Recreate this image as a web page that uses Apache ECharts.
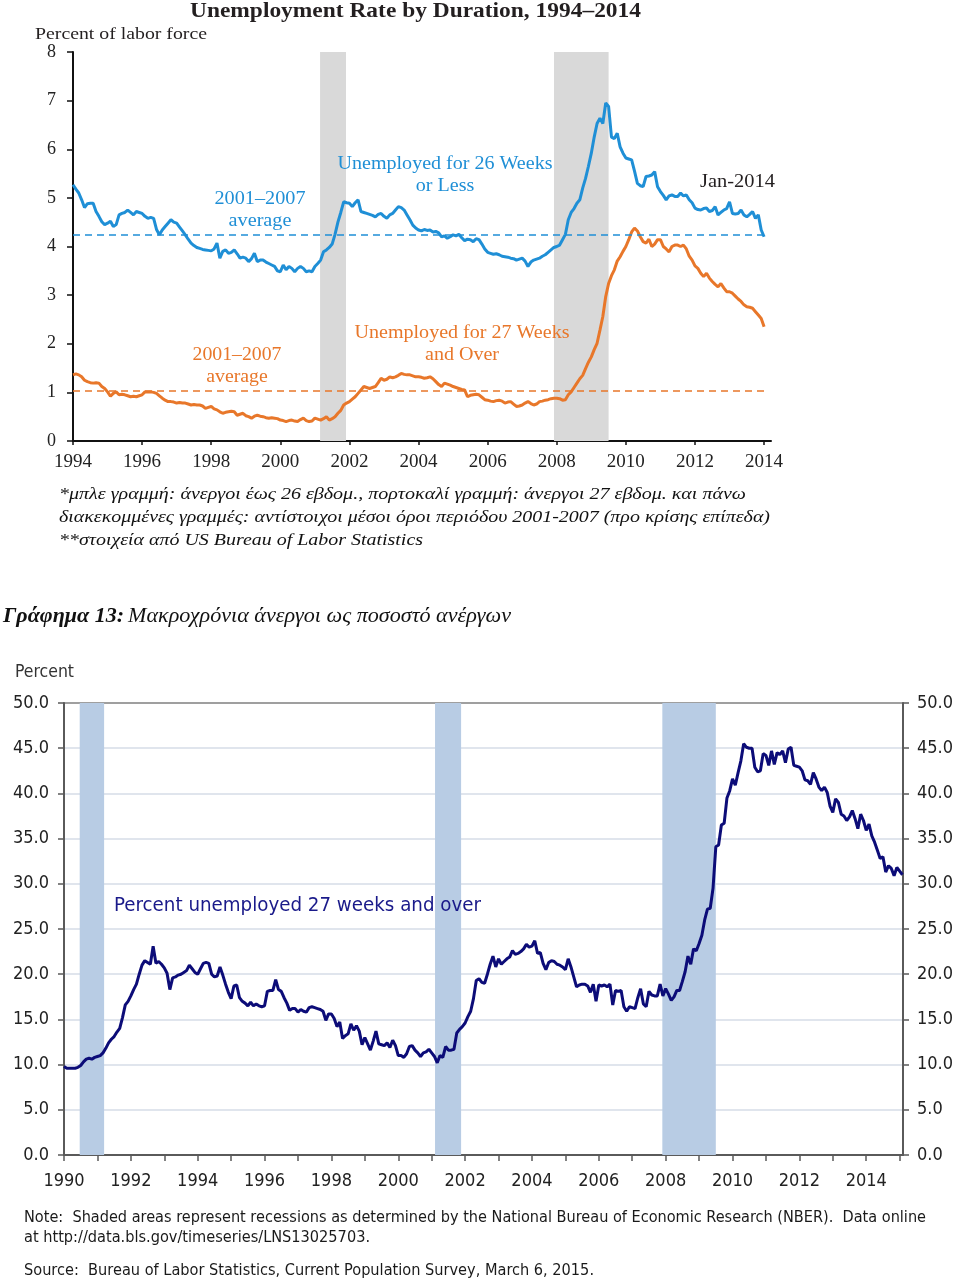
<!DOCTYPE html>
<html><head><meta charset="utf-8">
<script src="https://cdn.jsdelivr.net/npm/echarts@6/dist/echarts.min.js"></script>
<style>html,body{margin:0;padding:0;background:#fff}#c{width:960px;height:1284px}</style>
</head><body><div id="c"></div>
<script>
// ---------- DATA ----------
// Top chart: unemployment rate by duration, % of labor force, monthly Jan-1994 .. Jan-2014
const topStartYear = 1994;
const shortTermRate = [ // unemployed 26 weeks or less
 5.27,5.18,5.10,4.96,4.80,4.88,4.89,4.89,4.72,4.62,4.51,4.45,
 4.48,4.52,4.41,4.45,4.65,4.68,4.70,4.75,4.70,4.65,4.72,4.70,
 4.68,4.62,4.58,4.60,4.58,4.35,4.24,4.34,4.41,4.48,4.55,4.50,
 4.48,4.40,4.32,4.24,4.15,4.07,4.02,3.98,3.96,3.94,3.93,3.92,
 3.91,3.95,4.07,3.76,3.90,3.93,3.86,3.88,3.93,3.85,3.76,3.78,
 3.76,3.69,3.75,3.86,3.69,3.72,3.72,3.68,3.65,3.62,3.59,3.50,
 3.48,3.62,3.52,3.59,3.55,3.48,3.55,3.59,3.55,3.48,3.50,3.48,
 3.59,3.65,3.72,3.89,3.93,3.98,4.05,4.25,4.50,4.70,4.92,4.90,
 4.89,4.82,4.90,4.96,4.72,4.70,4.68,4.66,4.64,4.61,4.66,4.68,
 4.62,4.58,4.65,4.68,4.75,4.82,4.80,4.75,4.65,4.55,4.44,4.38,
 4.34,4.32,4.35,4.33,4.34,4.30,4.31,4.28,4.20,4.22,4.17,4.20,
 4.24,4.22,4.25,4.18,4.12,4.15,4.14,4.10,4.16,4.14,4.05,3.95,
 3.88,3.86,3.84,3.85,3.83,3.80,3.79,3.78,3.76,3.75,3.72,3.74,
 3.76,3.70,3.59,3.68,3.72,3.74,3.76,3.80,3.83,3.88,3.93,3.98,
 4.00,4.03,4.14,4.25,4.55,4.70,4.78,4.89,4.96,5.20,5.40,5.65,
 5.92,6.25,6.53,6.64,6.53,6.95,6.88,6.25,6.22,6.33,6.05,5.92,
 5.82,5.80,5.78,5.55,5.30,5.25,5.23,5.44,5.45,5.47,5.54,5.23,
 5.13,5.05,4.96,5.04,5.06,5.03,5.03,5.10,5.04,5.06,4.96,4.90,
 4.79,4.76,4.75,4.78,4.79,4.72,4.74,4.82,4.65,4.70,4.75,4.78,
 4.92,4.68,4.67,4.68,4.75,4.65,4.61,4.66,4.72,4.58,4.65,4.34,
 4.20
];
const longTermRate = [ // unemployed 27 weeks and over
 1.36,1.38,1.36,1.32,1.25,1.22,1.20,1.19,1.20,1.19,1.12,1.08,
 1.01,0.92,0.98,1.01,0.95,0.96,0.95,0.93,0.91,0.92,0.91,0.93,
 0.95,1.01,1.01,1.01,1.00,0.98,0.93,0.88,0.84,0.81,0.81,0.80,
 0.78,0.79,0.78,0.78,0.76,0.74,0.75,0.74,0.74,0.72,0.67,0.69,
 0.71,0.66,0.64,0.60,0.57,0.59,0.60,0.61,0.60,0.53,0.55,0.57,
 0.52,0.50,0.47,0.51,0.53,0.51,0.50,0.48,0.47,0.48,0.47,0.46,
 0.43,0.42,0.40,0.42,0.43,0.41,0.40,0.44,0.47,0.42,0.40,0.41,
 0.47,0.45,0.43,0.46,0.50,0.43,0.46,0.50,0.57,0.63,0.74,0.78,
 0.81,0.86,0.91,0.98,1.05,1.12,1.10,1.08,1.10,1.12,1.20,1.29,
 1.25,1.27,1.32,1.30,1.32,1.35,1.39,1.37,1.36,1.36,1.34,1.32,
 1.32,1.31,1.29,1.30,1.32,1.28,1.22,1.16,1.12,1.19,1.17,1.15,
 1.12,1.10,1.08,1.06,1.05,0.91,0.94,0.95,0.96,0.95,0.90,0.85,
 0.84,0.82,0.81,0.83,0.84,0.82,0.78,0.80,0.81,0.76,0.71,0.72,
 0.74,0.78,0.81,0.77,0.74,0.76,0.81,0.82,0.84,0.85,0.87,0.88,
 0.88,0.87,0.84,0.85,0.95,1.01,1.10,1.19,1.28,1.35,1.49,1.62,
 1.73,1.88,2.01,2.28,2.56,2.97,3.24,3.40,3.52,3.70,3.79,3.90,
 4.00,4.14,4.30,4.38,4.32,4.20,4.10,4.07,4.15,4.00,4.05,4.14,
 4.14,4.00,3.95,3.89,4.00,4.03,4.03,4.00,4.03,3.95,3.80,3.72,
 3.60,3.55,3.45,3.38,3.45,3.35,3.28,3.22,3.17,3.24,3.15,3.07,
 3.07,3.04,2.98,2.92,2.87,2.80,2.76,2.75,2.73,2.66,2.59,2.52,
 2.35
];
const shortTermAvg0107 = 4.24;
const longTermAvg0107 = 1.03;
const topRecessions = [[2001.15, 2001.9], [2007.92, 2009.5]];
const topYearTicks = [1994,1996,1998,2000,2002,2004,2006,2008,2010,2012,2014];

// Bottom chart: percent of unemployed 27 weeks and over, monthly Jan-1990 .. Feb-2015
const bottomStartYear = 1990;
const ltuShare = [
 9.8,9.6,9.6,9.6,9.6,9.7,9.9,10.3,10.6,10.7,10.6,10.8,
 10.9,11.0,11.3,11.8,12.4,12.8,13.1,13.6,14.0,15.2,16.6,17.0,
 17.6,18.3,18.9,20.0,21.0,21.5,21.3,21.1,23.1,21.2,21.4,21.1,
 20.7,20.1,18.3,19.6,19.7,19.9,20.0,20.2,20.4,21.0,20.6,20.2,
 20.0,20.6,21.2,21.3,21.2,20.0,19.7,19.8,20.8,19.9,18.9,18.0,
 17.3,18.7,18.8,17.4,17.0,16.8,16.5,16.9,16.5,16.7,16.5,16.4,
 16.5,18.1,18.2,18.2,19.4,18.3,18.1,17.4,16.8,16.0,16.2,16.2,
 15.8,16.1,15.9,15.8,16.3,16.4,16.3,16.2,16.1,15.9,14.9,15.6,
 15.6,15.1,14.2,14.7,12.9,13.2,13.4,14.5,13.8,14.3,13.7,12.2,
 13.0,12.3,11.6,12.6,13.7,12.3,12.2,12.1,12.4,11.9,12.7,12.1,
 11.0,11.0,10.8,11.2,12.0,12.1,11.6,11.3,10.9,11.3,11.4,11.7,
 11.3,10.9,10.2,11.0,10.8,12.0,11.6,11.6,11.7,13.5,13.9,14.2,
 14.6,15.3,15.9,17.3,19.3,19.5,19.1,19.0,20.0,21.1,22.0,20.8,
 21.7,21.1,21.4,21.7,21.9,22.6,22.2,22.3,22.5,22.8,23.3,23.0,
 23.1,23.7,22.3,22.4,21.2,20.5,21.3,21.5,21.4,21.1,21.0,20.8,
 20.5,21.7,20.8,19.7,18.6,18.8,18.9,18.9,18.7,18.0,18.9,17.0,
 18.8,18.7,18.8,18.6,18.9,16.6,18.2,18.1,18.2,16.4,15.9,16.4,
 16.3,16.2,17.4,18.4,16.7,16.4,18.1,17.7,17.6,17.6,18.9,17.6,
 18.4,17.8,17.1,17.5,18.2,18.2,19.2,20.3,22.0,21.1,22.8,22.6,
 23.4,24.3,26.0,27.2,27.3,29.5,34.1,34.3,36.5,36.7,39.5,40.3,
 41.6,40.9,42.3,43.6,45.5,45.1,45.0,45.0,42.9,42.4,42.5,44.4,
 44.2,43.1,44.7,43.2,44.5,44.3,44.7,43.4,44.9,45.1,43.1,43.0,
 42.9,42.5,41.5,41.4,41.0,42.3,41.6,40.7,40.3,40.7,40.1,38.6,
 37.9,39.4,39.0,37.7,37.5,37.0,37.4,38.1,37.2,36.1,37.7,37.0,
 35.9,36.6,35.3,34.6,33.7,32.8,33.0,31.3,32.0,31.7,30.9,31.8,
 31.4,31.0
];
const bottomRecessions = [[1990.47, 1991.2], [2001.1, 2001.88], [2007.9, 2009.5]];
const bottomYearTicks = [];
for (let y = 1990; y <= 2015; y++) bottomYearTicks.push(y);
const bottomYearLabels = bottomYearTicks.filter(y => y % 2 === 0);

// ---------- HELPERS ----------
function monthly(startYear, vals) {
  return vals.map((v, i) => [startYear + i / 12, v]);
}
const mctx = document.createElement('canvas').getContext('2d');
function fit(text, font, w) { mctx.font = font; return w / mctx.measureText(text).width; }
function txt(text, x, y, font, fill, width, align, scale) {
  const a = align || 'left';
  const s = scale || (width ? fit(text, font, width) : 1);
  return { type: 'text', x: x, y: y, scaleX: s, silent: true, z: 100, zlevel: 0,
    style: { text: text, font: font, fill: fill, textAlign: a, align: a,
             textVerticalAlign: 'middle', verticalAlign: 'middle' } };
}

const BLUE = '#1f8fd6', ORANGE = '#e8772a', NAVY = '#0c0c78';
const SERIF = "'Liberation Serif','Times New Roman',serif";
const SANS = "'DejaVu Sans Condensed','DejaVu Sans',sans-serif";

const fBlue = "18px " + SERIF;
const sBlue26 = fit('Unemployed for 26 Weeks', fBlue, 215);
const sOr27 = fit('Unemployed for 27 Weeks', fBlue, 215);
const sAvgB = fit('2001–2007', fBlue, 91);
const sAvgO = fit('2001–2007', fBlue, 89);

const graphics = [
  txt('Unemployment Rate by Duration, 1994–2014', 190, 12, 'bold 21px ' + SERIF, '#231f20', 451),
  txt('Percent of labor force', 35, 35, '17px ' + SERIF, '#231f20', 172),
  txt('Unemployed for 26 Weeks', 445, 164, fBlue, BLUE, null, 'center', sBlue26),
  txt('or Less', 445, 186, fBlue, BLUE, null, 'center', sBlue26),
  txt('2001–2007', 260, 199, fBlue, BLUE, null, 'center', sAvgB),
  txt('average', 260, 221, fBlue, BLUE, null, 'center', sAvgB),
  txt('Jan-2014', 700, 182, fBlue, '#231f20', 75),
  txt('Unemployed for 27 Weeks', 462, 333, fBlue, ORANGE, null, 'center', sOr27),
  txt('and Over', 462, 355, fBlue, ORANGE, null, 'center', sOr27),
  txt('2001–2007', 237, 355, fBlue, ORANGE, null, 'center', sAvgO),
  txt('average', 237, 377, fBlue, ORANGE, null, 'center', sAvgO),
  txt('*μπλε γραμμή: άνεργοι έως 26 εβδομ., πορτοκαλί γραμμή: άνεργοι 27 εβδομ. και πάνω', 59, 495, 'italic 17px ' + SERIF, '#111', 687),
  txt('διακεκομμένες γραμμές: αντίστοιχοι μέσοι όροι περιόδου 2001-2007 (προ κρίσης επίπεδα)', 59, 518, 'italic 17px ' + SERIF, '#111', 711),
  txt('**στοιχεία από US Bureau of Labor Statistics', 59, 541, 'italic 17px ' + SERIF, '#111', 364),
  txt('Γράφημα 13:', 3, 617, 'bold italic 20px ' + SERIF, '#111', 121),
  txt('Μακροχρόνια άνεργοι ως ποσοστό ανέργων', 128, 617, 'italic 20px ' + SERIF, '#111', 383),
  txt('Percent', 15, 673, '17px ' + SANS, '#333', 59),
  txt('Percent unemployed 27 weeks and over', 114, 906, '20px ' + SANS, '#1a1a8a', 367),
  txt('Note:  Shaded areas represent recessions as determined by the National Bureau of Economic Research (NBER).  Data online', 24, 1218, '16px ' + SANS, '#1a1a1a', 902),
  txt('at http://data.bls.gov/timeseries/LNS13025703.', 24, 1238, '16px ' + SANS, '#1a1a1a', 346),
  txt('Source:  Bureau of Labor Statistics, Current Population Survey, March 6, 2015.', 24, 1271, '16px ' + SANS, '#1a1a1a', 570)
];

const splitColors = [];
for (let i = 0; i < 10; i++) splitColors.push('#d6dce7');
splitColors.push('#7f7f7f');

const yearFmt = v => String(Math.round(v));

const option = {
  animation: false,
  backgroundColor: '#ffffff',
  grid: [
    { left: 73, top: 52, width: 698, height: 389 },
    { left: 64, top: 703, width: 839, height: 452 }
  ],
  xAxis: [
    { gridIndex: 0, type: 'value', min: 1994, max: 2014.2,
      axisLine: { show: true, onZero: false, lineStyle: { color: '#111', width: 2 } },
      axisTick: { show: true, customValues: topYearTicks, length: 4, lineStyle: { color: '#111', width: 1.5 } },
      axisLabel: { customValues: topYearTicks, formatter: yearFmt, fontFamily: SERIF, fontSize: 19, color: '#222', margin: 12 },
      splitLine: { show: false } },
    { gridIndex: 1, type: 'value', min: 1990, max: 2015.1,
      axisLine: { show: true, onZero: false, lineStyle: { color: '#5a5a5a', width: 2 } },
      axisTick: { show: true, customValues: bottomYearTicks, length: 6, lineStyle: { color: '#5a5a5a', width: 1.5 } },
      axisLabel: { customValues: bottomYearLabels, formatter: yearFmt, fontFamily: SANS, fontSize: 18, color: '#222', margin: 17 },
      splitLine: { show: false } }
  ],
  yAxis: [
    { gridIndex: 0, type: 'value', min: 0, max: 8, interval: 1,
      axisLine: { show: true, lineStyle: { color: '#111', width: 2 } },
      axisTick: { show: true, length: 6, lineStyle: { color: '#111', width: 1.5 } },
      axisLabel: { fontFamily: SERIF, fontSize: 18, color: '#222', margin: 17 },
      splitLine: { show: false } },
    { gridIndex: 1, type: 'value', position: 'left', min: 0, max: 50, interval: 5,
      axisLine: { show: true, lineStyle: { color: '#5a5a5a', width: 2 } },
      axisTick: { show: true, length: 6, lineStyle: { color: '#5a5a5a', width: 1.5 } },
      axisLabel: { fontFamily: SANS, fontSize: 18, color: '#222', margin: 15, formatter: v => v.toFixed(1) },
      splitLine: { show: true, lineStyle: { color: splitColors, width: 1.5 } } },
    { gridIndex: 1, type: 'value', position: 'right', min: 0, max: 50, interval: 5,
      axisLine: { show: true, lineStyle: { color: '#5a5a5a', width: 2 } },
      axisTick: { show: true, length: 6, lineStyle: { color: '#5a5a5a', width: 1.5 } },
      axisLabel: { fontFamily: SANS, fontSize: 18, color: '#222', margin: 14, formatter: v => v.toFixed(1) },
      splitLine: { show: false } }
  ],
  series: [
    { type: 'line', name: 'Unemployed for 27 Weeks and Over', xAxisIndex: 0, yAxisIndex: 0,
      data: monthly(topStartYear, longTermRate), showSymbol: false, z: 3,
      lineStyle: { color: ORANGE, width: 3 }, itemStyle: { color: ORANGE },
      markArea: { silent: true, itemStyle: { color: '#d9d9d9', opacity: 1 },
        data: topRecessions.map(r => [{ xAxis: r[0] }, { xAxis: r[1] }]) },
      markLine: { silent: true, symbol: 'none', label: { show: false },
        lineStyle: { color: ORANGE, type: [7, 5], width: 1.6 },
        data: [[{ coord: [1994, longTermAvg0107] }, { coord: [2014.05, longTermAvg0107] }]] } },
    { type: 'line', name: 'Unemployed for 26 Weeks or Less', xAxisIndex: 0, yAxisIndex: 0,
      data: monthly(topStartYear, shortTermRate), showSymbol: false, z: 4,
      lineStyle: { color: BLUE, width: 3 }, itemStyle: { color: BLUE },
      markLine: { silent: true, symbol: 'none', label: { show: false },
        lineStyle: { color: BLUE, type: [7, 5], width: 1.6 },
        data: [[{ coord: [1994, shortTermAvg0107] }, { coord: [2014.05, shortTermAvg0107] }]] } },
    { type: 'line', name: 'Percent unemployed 27 weeks and over', xAxisIndex: 1, yAxisIndex: 1,
      data: monthly(bottomStartYear, ltuShare), showSymbol: false, z: 4,
      lineStyle: { color: NAVY, width: 3 }, itemStyle: { color: NAVY },
      markArea: { silent: true, itemStyle: { color: '#b8cce4', opacity: 1 },
        data: bottomRecessions.map(r => [{ xAxis: r[0] }, { xAxis: r[1] }]) } }
  ],
  graphic: { elements: graphics }
};
const chart = echarts.init(document.getElementById('c'), null, { renderer: 'canvas' });
chart.setOption(option);
</script></body></html>
